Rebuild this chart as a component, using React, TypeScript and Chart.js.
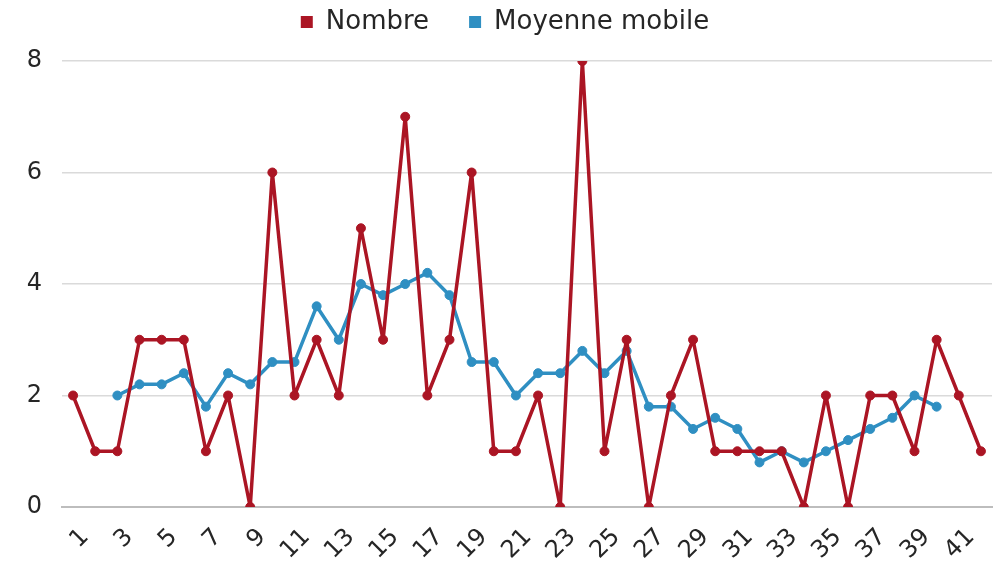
import React, { useEffect, useRef } from 'react';
import { Chart, registerables } from 'chart.js';

Chart.register(...registerables);

const categories = [
  '1', '2', '3', '4', '5', '6', '7', '8', '9', '10',
  '11', '12', '13', '14', '15', '16', '17', '18', '19', '20',
  '21', '22', '23', '24', '25', '26', '27', '28', '29', '30',
  '31', '32', '33', '34', '35', '36', '37', '38', '39', '40',
  '41', '42',
];

const nombre = [
  2, 1, 1, 3, 3, 3, 1, 2, 0, 6,
  2, 3, 2, 5, 3, 7, 2, 3, 6, 1,
  1, 2, 0, 8, 1, 3, 0, 2, 3, 1,
  1, 1, 1, 0, 2, 0, 2, 2, 1, 3,
  2, 1,
];

const moyenneMobile = [
  null, null, 2, 2.2, 2.2, 2.4, 1.8, 2.4, 2.2, 2.6,
  2.6, 3.6, 3, 4, 3.8, 4, 4.2, 3.8, 2.6, 2.6,
  2, 2.4, 2.4, 2.8, 2.4, 2.8, 1.8, 1.8, 1.4, 1.6,
  1.4, 0.8, 1, 0.8, 1, 1.2, 1.4, 1.6, 2, 1.8,
  null, null,
];

const seriesNames = ['Nombre', 'Moyenne mobile'];
const yMin = 0;
const yMax = 8;
const yStep = 2;

const RED = '#AB1524';
const BLUE = '#2F8FC2';
const FONT = "'DejaVu Sans', sans-serif";

const LEGEND_PAD = 40;
const LEGEND_FONT = 26;

const legendPlacement = {
  id: 'legendPlacement',
  afterInit(chart: any) {
    const lg = chart.legend;
    if (!lg) return;
    const origFit = lg.fit;
    lg.fit = function () {
      origFit.call(this);
      this.height = 61;
    };
  },
  afterLayout(chart: any) {
    const lg = chart.legend;
    if (!lg) return;
    lg.top = 22 - (LEGEND_PAD + LEGEND_FONT / 2);
    lg.left += 9;
    lg.right += 9;
  },
};

export default function App() {
  const ref = useRef<HTMLCanvasElement | null>(null);

  useEffect(() => {
    if (!ref.current) return;
    const chart = new Chart(ref.current, {
      type: 'line',
      data: {
        labels: categories,
        datasets: [
          {
            label: seriesNames[0],
            data: nombre,
            borderColor: RED,
            backgroundColor: RED,
            pointBackgroundColor: RED,
            pointBorderColor: RED,
            borderWidth: 3.5,
            borderJoinStyle: 'round',
            pointRadius: 4.5,
            pointBorderWidth: 1,
            tension: 0,
          },
          {
            label: seriesNames[1],
            data: moyenneMobile,
            borderColor: BLUE,
            backgroundColor: BLUE,
            pointBackgroundColor: BLUE,
            pointBorderColor: BLUE,
            borderWidth: 3.5,
            borderJoinStyle: 'round',
            pointRadius: 4.5,
            pointBorderWidth: 1,
            tension: 0,
            spanGaps: false,
          },
        ],
      },
      options: {
        animation: false,
        responsive: true,
        maintainAspectRatio: false,
        layout: { padding: { left: 0, right: 11, top: 0, bottom: 0 } },
        plugins: {
          title: { display: false },
          tooltip: { enabled: false },
          legend: {
            display: true,
            position: 'top',
            labels: {
              boxWidth: 12,
              boxHeight: 12,
              padding: LEGEND_PAD,
              color: '#262626',
              font: { family: FONT, size: LEGEND_FONT },
              generateLabels(chart: any) {
                const items = Chart.defaults.plugins.legend.labels.generateLabels(chart);
                items.forEach((it: any) => {
                  it.lineWidth = 0;
                });
                return items;
              },
            },
          },
        },
        scales: {
          x: {
            type: 'category',
            offset: true,
            grid: { display: false, drawTicks: false },
            border: { display: true, color: '#bdbdbd', width: 2 },
            ticks: {
              autoSkip: false,
              maxRotation: 45,
              minRotation: 45,
              padding: 16,
              labelOffset: 12,
              color: '#262626',
              font: { family: FONT, size: 24 },
              callback: (_v: any, i: number) => (i % 2 === 0 ? categories[i] : ''),
            },
            afterFit: (s: any) => {
              s.height = 54;
              s.paddingLeft = 0;
              s.paddingRight = 0;
            },
          },
          y: {
            min: yMin,
            max: yMax,
            grid: { color: '#dadada', lineWidth: 1.5, drawTicks: false },
            border: { display: false },
            ticks: {
              stepSize: yStep,
              padding: 20,
              color: '#262626',
              font: { family: FONT, size: 24 },
            },
            afterFit: (s: any) => {
              s.width = 62;
            },
          },
        },
      },
      plugins: [legendPlacement],
    } as any);
    return () => chart.destroy();
  }, []);

  return (
    <div style={{ position: 'fixed', left: 0, top: 0, width: 1003, height: 561, background: '#fff' }}>
      <canvas ref={ref} />
    </div>
  );
}
